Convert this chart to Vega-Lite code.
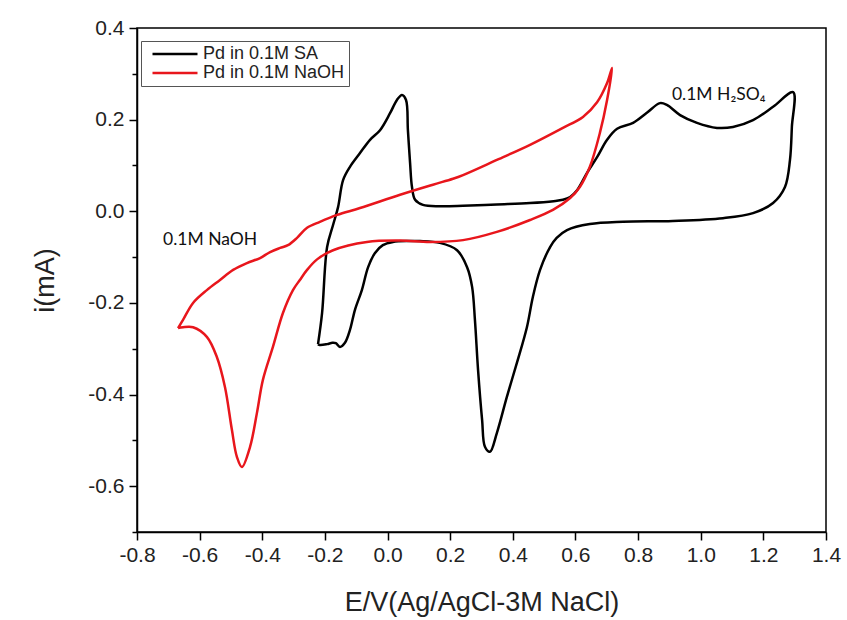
{
  "$schema": "https://vega.github.io/schema/vega-lite/v6.json",
  "width": 689,
  "height": 504,
  "autosize": {"type": "none"},
  "padding": {"left": 137, "top": 28, "right": 21, "bottom": 88},
  "background": "white",
  "config": {
    "view": {"stroke": "#000000", "strokeWidth": 1.5},
    "axis": {
      "domainColor": "#000000",
      "domainWidth": 1.5,
      "tickColor": "#000000",
      "tickWidth": 1.5,
      "grid": false,
      "labelFont": "Liberation Sans",
      "labelFontSize": 21,
      "labelColor": "#222222",
      "labelFlush": false,
      "titleFont": "Liberation Sans",
      "titleFontSize": 27,
      "titleFontWeight": "normal",
      "titleColor": "#222222",
      "labelOverlap": false
    }
  },
  "datasets": {
    "cv": [
      {"s": "Pd in 0.1M SA", "k": 1, "E": -0.222, "I": -0.290},
      {"s": "Pd in 0.1M SA", "k": 2, "E": -0.209, "I": -0.222},
      {"s": "Pd in 0.1M SA", "k": 3, "E": -0.193, "I": -0.078},
      {"s": "Pd in 0.1M SA", "k": 4, "E": -0.174, "I": -0.030},
      {"s": "Pd in 0.1M SA", "k": 5, "E": -0.158, "I": 0.009},
      {"s": "Pd in 0.1M SA", "k": 6, "E": -0.142, "I": 0.068},
      {"s": "Pd in 0.1M SA", "k": 7, "E": -0.120, "I": 0.097},
      {"s": "Pd in 0.1M SA", "k": 8, "E": -0.088, "I": 0.127},
      {"s": "Pd in 0.1M SA", "k": 9, "E": -0.056, "I": 0.156},
      {"s": "Pd in 0.1M SA", "k": 10, "E": -0.024, "I": 0.177},
      {"s": "Pd in 0.1M SA", "k": 11, "E": 0.008, "I": 0.214},
      {"s": "Pd in 0.1M SA", "k": 12, "E": 0.030, "I": 0.243},
      {"s": "Pd in 0.1M SA", "k": 13, "E": 0.046, "I": 0.254},
      {"s": "Pd in 0.1M SA", "k": 14, "E": 0.059, "I": 0.243},
      {"s": "Pd in 0.1M SA", "k": 15, "E": 0.065, "I": 0.177},
      {"s": "Pd in 0.1M SA", "k": 16, "E": 0.072, "I": 0.105},
      {"s": "Pd in 0.1M SA", "k": 17, "E": 0.078, "I": 0.053},
      {"s": "Pd in 0.1M SA", "k": 18, "E": 0.088, "I": 0.025},
      {"s": "Pd in 0.1M SA", "k": 19, "E": 0.113, "I": 0.014},
      {"s": "Pd in 0.1M SA", "k": 20, "E": 0.167, "I": 0.011},
      {"s": "Pd in 0.1M SA", "k": 21, "E": 0.241, "I": 0.012},
      {"s": "Pd in 0.1M SA", "k": 22, "E": 0.349, "I": 0.015},
      {"s": "Pd in 0.1M SA", "k": 23, "E": 0.455, "I": 0.018},
      {"s": "Pd in 0.1M SA", "k": 24, "E": 0.530, "I": 0.022},
      {"s": "Pd in 0.1M SA", "k": 25, "E": 0.560, "I": 0.025},
      {"s": "Pd in 0.1M SA", "k": 26, "E": 0.583, "I": 0.031},
      {"s": "Pd in 0.1M SA", "k": 27, "E": 0.605, "I": 0.046},
      {"s": "Pd in 0.1M SA", "k": 28, "E": 0.637, "I": 0.084},
      {"s": "Pd in 0.1M SA", "k": 29, "E": 0.669, "I": 0.118},
      {"s": "Pd in 0.1M SA", "k": 30, "E": 0.701, "I": 0.156},
      {"s": "Pd in 0.1M SA", "k": 31, "E": 0.733, "I": 0.180},
      {"s": "Pd in 0.1M SA", "k": 32, "E": 0.784, "I": 0.193},
      {"s": "Pd in 0.1M SA", "k": 33, "E": 0.828, "I": 0.215},
      {"s": "Pd in 0.1M SA", "k": 34, "E": 0.870, "I": 0.236},
      {"s": "Pd in 0.1M SA", "k": 35, "E": 0.892, "I": 0.232},
      {"s": "Pd in 0.1M SA", "k": 36, "E": 0.934, "I": 0.210},
      {"s": "Pd in 0.1M SA", "k": 37, "E": 0.988, "I": 0.193},
      {"s": "Pd in 0.1M SA", "k": 38, "E": 1.052, "I": 0.182},
      {"s": "Pd in 0.1M SA", "k": 39, "E": 1.103, "I": 0.184},
      {"s": "Pd in 0.1M SA", "k": 40, "E": 1.167, "I": 0.199},
      {"s": "Pd in 0.1M SA", "k": 41, "E": 1.231, "I": 0.228},
      {"s": "Pd in 0.1M SA", "k": 42, "E": 1.295, "I": 0.260},
      {"s": "Pd in 0.1M SA", "k": 43, "E": 1.291, "I": 0.184},
      {"s": "Pd in 0.1M SA", "k": 44, "E": 1.285, "I": 0.112},
      {"s": "Pd in 0.1M SA", "k": 45, "E": 1.269, "I": 0.053},
      {"s": "Pd in 0.1M SA", "k": 46, "E": 1.231, "I": 0.018},
      {"s": "Pd in 0.1M SA", "k": 47, "E": 1.167, "I": -0.004},
      {"s": "Pd in 0.1M SA", "k": 48, "E": 1.071, "I": -0.015},
      {"s": "Pd in 0.1M SA", "k": 49, "E": 0.911, "I": -0.021},
      {"s": "Pd in 0.1M SA", "k": 50, "E": 0.752, "I": -0.023},
      {"s": "Pd in 0.1M SA", "k": 51, "E": 0.646, "I": -0.028},
      {"s": "Pd in 0.1M SA", "k": 52, "E": 0.573, "I": -0.041},
      {"s": "Pd in 0.1M SA", "k": 53, "E": 0.540, "I": -0.058},
      {"s": "Pd in 0.1M SA", "k": 54, "E": 0.519, "I": -0.078},
      {"s": "Pd in 0.1M SA", "k": 55, "E": 0.487, "I": -0.128},
      {"s": "Pd in 0.1M SA", "k": 56, "E": 0.464, "I": -0.187},
      {"s": "Pd in 0.1M SA", "k": 57, "E": 0.445, "I": -0.253},
      {"s": "Pd in 0.1M SA", "k": 58, "E": 0.413, "I": -0.331},
      {"s": "Pd in 0.1M SA", "k": 59, "E": 0.381, "I": -0.405},
      {"s": "Pd in 0.1M SA", "k": 60, "E": 0.349, "I": -0.484},
      {"s": "Pd in 0.1M SA", "k": 61, "E": 0.327, "I": -0.525},
      {"s": "Pd in 0.1M SA", "k": 62, "E": 0.311, "I": -0.514},
      {"s": "Pd in 0.1M SA", "k": 63, "E": 0.302, "I": -0.456},
      {"s": "Pd in 0.1M SA", "k": 64, "E": 0.289, "I": -0.346},
      {"s": "Pd in 0.1M SA", "k": 65, "E": 0.279, "I": -0.237},
      {"s": "Pd in 0.1M SA", "k": 66, "E": 0.270, "I": -0.165},
      {"s": "Pd in 0.1M SA", "k": 67, "E": 0.254, "I": -0.122},
      {"s": "Pd in 0.1M SA", "k": 68, "E": 0.222, "I": -0.085},
      {"s": "Pd in 0.1M SA", "k": 69, "E": 0.167, "I": -0.069},
      {"s": "Pd in 0.1M SA", "k": 70, "E": 0.104, "I": -0.065},
      {"s": "Pd in 0.1M SA", "k": 71, "E": 0.072, "I": -0.065},
      {"s": "Pd in 0.1M SA", "k": 72, "E": 0.017, "I": -0.067},
      {"s": "Pd in 0.1M SA", "k": 73, "E": -0.015, "I": -0.074},
      {"s": "Pd in 0.1M SA", "k": 74, "E": -0.040, "I": -0.091},
      {"s": "Pd in 0.1M SA", "k": 75, "E": -0.062, "I": -0.122},
      {"s": "Pd in 0.1M SA", "k": 76, "E": -0.082, "I": -0.172},
      {"s": "Pd in 0.1M SA", "k": 77, "E": -0.104, "I": -0.215},
      {"s": "Pd in 0.1M SA", "k": 78, "E": -0.120, "I": -0.259},
      {"s": "Pd in 0.1M SA", "k": 79, "E": -0.136, "I": -0.287},
      {"s": "Pd in 0.1M SA", "k": 80, "E": -0.152, "I": -0.296},
      {"s": "Pd in 0.1M SA", "k": 81, "E": -0.165, "I": -0.288},
      {"s": "Pd in 0.1M SA", "k": 82, "E": -0.176, "I": -0.287},
      {"s": "Pd in 0.1M SA", "k": 83, "E": -0.193, "I": -0.290},
      {"s": "Pd in 0.1M SA", "k": 84, "E": -0.216, "I": -0.292},
      {"s": "Pd in 0.1M SA", "k": 85, "E": -0.222, "I": -0.290},
      {"s": "Pd in 0.1M NaOH", "k": 1, "E": -0.669, "I": -0.255},
      {"s": "Pd in 0.1M NaOH", "k": 2, "E": -0.653, "I": -0.237},
      {"s": "Pd in 0.1M NaOH", "k": 3, "E": -0.621, "I": -0.200},
      {"s": "Pd in 0.1M NaOH", "k": 4, "E": -0.577, "I": -0.172},
      {"s": "Pd in 0.1M NaOH", "k": 5, "E": -0.535, "I": -0.150},
      {"s": "Pd in 0.1M NaOH", "k": 6, "E": -0.493, "I": -0.128},
      {"s": "Pd in 0.1M NaOH", "k": 7, "E": -0.449, "I": -0.113},
      {"s": "Pd in 0.1M NaOH", "k": 8, "E": -0.407, "I": -0.102},
      {"s": "Pd in 0.1M NaOH", "k": 9, "E": -0.375, "I": -0.089},
      {"s": "Pd in 0.1M NaOH", "k": 10, "E": -0.343, "I": -0.080},
      {"s": "Pd in 0.1M NaOH", "k": 11, "E": -0.318, "I": -0.074},
      {"s": "Pd in 0.1M NaOH", "k": 12, "E": -0.289, "I": -0.058},
      {"s": "Pd in 0.1M NaOH", "k": 13, "E": -0.257, "I": -0.036},
      {"s": "Pd in 0.1M NaOH", "k": 14, "E": -0.216, "I": -0.023},
      {"s": "Pd in 0.1M NaOH", "k": 15, "E": -0.161, "I": -0.008},
      {"s": "Pd in 0.1M NaOH", "k": 16, "E": -0.088, "I": 0.007},
      {"s": "Pd in 0.1M NaOH", "k": 17, "E": 0.040, "I": 0.036},
      {"s": "Pd in 0.1M NaOH", "k": 18, "E": 0.145, "I": 0.058},
      {"s": "Pd in 0.1M NaOH", "k": 19, "E": 0.209, "I": 0.071},
      {"s": "Pd in 0.1M NaOH", "k": 20, "E": 0.241, "I": 0.079},
      {"s": "Pd in 0.1M NaOH", "k": 21, "E": 0.349, "I": 0.112},
      {"s": "Pd in 0.1M NaOH", "k": 22, "E": 0.455, "I": 0.145},
      {"s": "Pd in 0.1M NaOH", "k": 23, "E": 0.560, "I": 0.182},
      {"s": "Pd in 0.1M NaOH", "k": 24, "E": 0.624, "I": 0.206},
      {"s": "Pd in 0.1M NaOH", "k": 25, "E": 0.669, "I": 0.238},
      {"s": "Pd in 0.1M NaOH", "k": 26, "E": 0.701, "I": 0.280},
      {"s": "Pd in 0.1M NaOH", "k": 27, "E": 0.717, "I": 0.313},
      {"s": "Pd in 0.1M NaOH", "k": 28, "E": 0.701, "I": 0.243},
      {"s": "Pd in 0.1M NaOH", "k": 29, "E": 0.678, "I": 0.171},
      {"s": "Pd in 0.1M NaOH", "k": 30, "E": 0.646, "I": 0.097},
      {"s": "Pd in 0.1M NaOH", "k": 31, "E": 0.614, "I": 0.053},
      {"s": "Pd in 0.1M NaOH", "k": 32, "E": 0.583, "I": 0.029},
      {"s": "Pd in 0.1M NaOH", "k": 33, "E": 0.528, "I": 0.003},
      {"s": "Pd in 0.1M NaOH", "k": 34, "E": 0.455, "I": -0.019},
      {"s": "Pd in 0.1M NaOH", "k": 35, "E": 0.349, "I": -0.045},
      {"s": "Pd in 0.1M NaOH", "k": 36, "E": 0.241, "I": -0.063},
      {"s": "Pd in 0.1M NaOH", "k": 37, "E": 0.136, "I": -0.067},
      {"s": "Pd in 0.1M NaOH", "k": 38, "E": 0.040, "I": -0.064},
      {"s": "Pd in 0.1M NaOH", "k": 39, "E": -0.066, "I": -0.067},
      {"s": "Pd in 0.1M NaOH", "k": 40, "E": -0.174, "I": -0.085},
      {"s": "Pd in 0.1M NaOH", "k": 41, "E": -0.225, "I": -0.105},
      {"s": "Pd in 0.1M NaOH", "k": 42, "E": -0.257, "I": -0.128},
      {"s": "Pd in 0.1M NaOH", "k": 43, "E": -0.280, "I": -0.150},
      {"s": "Pd in 0.1M NaOH", "k": 44, "E": -0.302, "I": -0.172},
      {"s": "Pd in 0.1M NaOH", "k": 45, "E": -0.334, "I": -0.222},
      {"s": "Pd in 0.1M NaOH", "k": 46, "E": -0.366, "I": -0.296},
      {"s": "Pd in 0.1M NaOH", "k": 47, "E": -0.398, "I": -0.368},
      {"s": "Pd in 0.1M NaOH", "k": 48, "E": -0.417, "I": -0.440},
      {"s": "Pd in 0.1M NaOH", "k": 49, "E": -0.439, "I": -0.514},
      {"s": "Pd in 0.1M NaOH", "k": 50, "E": -0.465, "I": -0.558},
      {"s": "Pd in 0.1M NaOH", "k": 51, "E": -0.481, "I": -0.536},
      {"s": "Pd in 0.1M NaOH", "k": 52, "E": -0.497, "I": -0.477},
      {"s": "Pd in 0.1M NaOH", "k": 53, "E": -0.519, "I": -0.384},
      {"s": "Pd in 0.1M NaOH", "k": 54, "E": -0.545, "I": -0.318},
      {"s": "Pd in 0.1M NaOH", "k": 55, "E": -0.577, "I": -0.274},
      {"s": "Pd in 0.1M NaOH", "k": 56, "E": -0.621, "I": -0.253},
      {"s": "Pd in 0.1M NaOH", "k": 57, "E": -0.653, "I": -0.253},
      {"s": "Pd in 0.1M NaOH", "k": 58, "E": -0.669, "I": -0.255}
    ],
    "notes": [
      {"E": 0.908, "I": 0.254, "label": "0.1M H₂SO₄"},
      {"E": -0.717, "I": -0.063, "label": "0.1M NaOH"}
    ]
  },
  "layer": [
    {
      "data": {"name": "cv"},
      "transform": [{"filter": "datum.s === 'Pd in 0.1M SA'"}],
      "mark": {"type": "line", "strokeWidth": 2.5, "interpolate": "catmull-rom", "clip": true},
      "encoding": {
        "x": {
          "field": "E", "type": "quantitative",
          "scale": {"domain": [-0.8, 1.4], "nice": false, "zero": false},
          "axis": {
            "title": "E/V(Ag/AgCl-3M NaCl)",
            "values": [-0.8, -0.7, -0.6, -0.5, -0.4, -0.3, -0.2, -0.1, 0, 0.1, 0.2, 0.3, 0.4, 0.5, 0.6, 0.7, 0.8, 0.9, 1.0, 1.1, 1.2, 1.3, 1.4],
            "labelExpr": "abs(round(datum.value*10)) % 2 == 0 ? replace(format(datum.value, '.1f'), '−', '-') : ''",
            "tickSize": {"condition": {"test": "abs(round(datum.value*10)) % 2 == 0", "value": 8}, "value": 5},
            "labelPadding": 4,
            "titlePadding": 24
          }
        },
        "y": {
          "field": "I", "type": "quantitative",
          "scale": {"domain": [-0.7, 0.4], "nice": false, "zero": false},
          "axis": {
            "title": "i(mA)",
            "values": [-0.7, -0.6, -0.5, -0.4, -0.3, -0.2, -0.1, 0, 0.1, 0.2, 0.3, 0.4],
            "labelExpr": "abs(round(datum.value*10)) % 2 == 0 ? replace(format(datum.value, '.1f'), '−', '-') : ''",
            "tickSize": {"condition": {"test": "abs(round(datum.value*10)) % 2 == 0", "value": 8}, "value": 5},
            "labelPadding": 5,
            "titlePadding": 28
          }
        },
        "order": {"field": "k", "type": "quantitative"},
        "color": {
          "field": "s", "type": "nominal",
          "scale": {"domain": ["Pd in 0.1M SA", "Pd in 0.1M NaOH"], "range": ["#000000", "#e8161c"]},
          "legend": {
            "title": null,
            "orient": "none",
            "legendX": 4,
            "legendY": 13,
            "direction": "vertical",
            "symbolType": "M-4.5,0H4.5",
            "symbolStrokeWidth": 2.5,
            "symbolSize": 100,
            "symbolOffset": 21,
            "labelOffset": 19,
            "labelFont": "Liberation Sans",
            "labelFontSize": 18,
            "labelColor": "#222222",
            "padding": 4,
            "rowPadding": 1,
            "strokeColor": "#555555",
            "fillColor": "#ffffff"
          }
        }
      }
    },
    {
      "data": {"name": "cv"},
      "transform": [{"filter": "datum.s === 'Pd in 0.1M NaOH'"}],
      "mark": {"type": "line", "strokeWidth": 2.5, "interpolate": "catmull-rom", "clip": true},
      "encoding": {
        "x": {"field": "E", "type": "quantitative"},
        "y": {"field": "I", "type": "quantitative"},
        "order": {"field": "k", "type": "quantitative"},
        "color": {"field": "s", "type": "nominal"}
      }
    },
    {
      "data": {"name": "notes"},
      "mark": {"type": "text", "align": "left", "baseline": "middle", "font": "Lato", "fontSize": 17.5, "color": "#111111"},
      "encoding": {
        "x": {"field": "E", "type": "quantitative"},
        "y": {"field": "I", "type": "quantitative"},
        "text": {"field": "label"}
      }
    }
  ]
}
